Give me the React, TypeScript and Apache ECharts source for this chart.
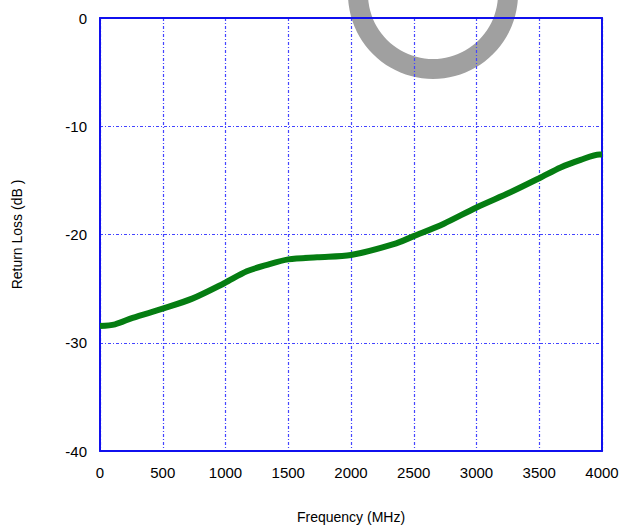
import React, { useEffect, useRef } from "react";
import * as echarts from "echarts";

const frequencyMHz = [0, 120, 260, 500, 740, 990, 1170, 1330, 1500, 1730, 2000, 2340, 2500, 2740, 3000, 3270, 3500, 3670, 3830, 3980, 4000];
const returnLossDb = [-28.45, -28.3, -27.7, -26.85, -25.9, -24.5, -23.4, -22.8, -22.3, -22.1, -21.9, -20.9, -20.15, -19.0, -17.5, -16.1, -14.8, -13.8, -13.1, -12.6, -12.6];
const xTicks = [0, 4000, 500];
const yTicks = [-40, 0, 10];

const BLUE = "#4444ff";
const FRAME = "#1010ee";
const FONT = "Liberation Sans";

export default function App() {
  const ref = useRef<HTMLDivElement>(null);
  useEffect(() => {
    const chart = echarts.init(ref.current!, null, { renderer: "svg" });
    const split = {
      show: true,
      lineStyle: { color: BLUE, width: 1.2, type: [3, 2, 1, 2] as any },
    };
    const line = { show: true, onZero: false, lineStyle: { color: FRAME, width: 2 } };
    chart.setOption({
      animation: false,
      backgroundColor: "#ffffff",
      grid: { left: 100, right: 21, top: 18, bottom: 75, show: false },
      graphic: [
        {
          type: "ring",
          z: -10,
          silent: true,
          shape: { cx: 433, cy: -6, r: 85, r0: 65 },
          style: { fill: "#a0a0a0" },
        },
      ],
      xAxis: [
        {
          type: "value",
          min: xTicks[0],
          max: xTicks[1],
          interval: xTicks[2],
          position: "bottom",
          name: "Frequency (MHz)",
          nameLocation: "middle",
          nameGap: 59,
          nameTextStyle: { fontFamily: FONT, fontSize: 14, color: "#000" },
          axisLine: line,
          axisTick: { show: false },
          axisLabel: {
            fontFamily: FONT,
            fontSize: 15,
            color: "#000",
            margin: 14,
            formatter: (v: number) => String(v),
          },
          splitLine: split,
        },
        {
          type: "value",
          min: xTicks[0],
          max: xTicks[1],
          interval: xTicks[2],
          position: "top",
          axisLine: line,
          axisTick: { show: false },
          axisLabel: { show: false },
          splitLine: { show: false },
        },
      ],
      yAxis: [
        {
          type: "value",
          min: yTicks[0],
          max: yTicks[1],
          interval: yTicks[2],
          position: "left",
          name: "Return Loss (dB )",
          nameLocation: "middle",
          nameGap: 76,
          nameRotate: 90,
          nameTextStyle: { fontFamily: FONT, fontSize: 14, color: "#000" },
          axisLine: line,
          axisTick: { show: false },
          axisLabel: {
            fontFamily: FONT,
            fontSize: 15,
            color: "#000",
            margin: 13,
            formatter: (v: number) => String(v),
          },
          splitLine: split,
        },
        {
          type: "value",
          min: yTicks[0],
          max: yTicks[1],
          interval: yTicks[2],
          position: "right",
          axisLine: line,
          axisTick: { show: false },
          axisLabel: { show: false },
          splitLine: { show: false },
        },
      ],
      series: [
        {
          type: "line",
          data: frequencyMHz.map((f, i) => [f, returnLossDb[i]]),
          showSymbol: false,
          smooth: 0.3,
          lineStyle: { color: "#057d12", width: 6 },
          z: 5,
        },
      ],
    });
    return () => chart.dispose();
  }, []);
  return (
    <div
      ref={ref}
      style={{ position: "fixed", left: 0, top: 0, width: 623, height: 529, background: "#fff" }}
    />
  );
}
